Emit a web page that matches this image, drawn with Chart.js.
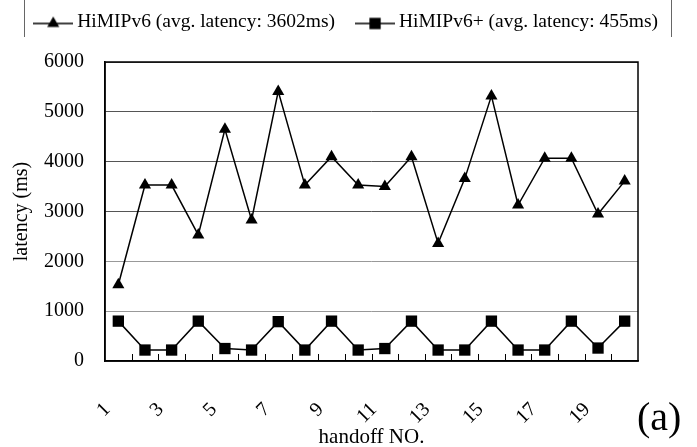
<!DOCTYPE html>
<html>
<head>
<meta charset="utf-8">
<script src="https://cdn.jsdelivr.net/npm/chart.js@4.4.1/dist/chart.umd.min.js"></script>
<style>
  body { margin: 0; background: #fff; }
  #wrap { width: 697px; height: 447px; }
</style>
</head>
<body>
<div id="wrap"><canvas id="latencyChart" width="697" height="447"></canvas></div>
<script>
// handoff numbers along the x axis
const handoffs = ['1', '2', '3', '4', '5', '6', '7', '8', '9', '10',
                  '11', '12', '13', '14', '15', '16', '17', '18', '19', '20'];

// latency per handoff (ms)
const himipv6 = [1530, 3530, 3530, 2530, 4650, 2830, 5410, 3530, 4100, 3530,
                 3500, 4100, 2360, 3660, 5320, 3130, 4070, 4070, 2950, 3610];
const himipv6Plus = [800, 220, 220, 800, 250, 220, 790, 220, 800, 220,
                     250, 800, 220, 220, 800, 220, 220, 800, 260, 800];

const seriesNames = ['HiMIPv6 (avg. latency: 3602ms)', 'HiMIPv6+ (avg. latency: 455ms)'];
const yTicks = [0, 1000, 2000, 3000, 4000, 5000, 6000];
const panelLabel = '(a)';

const serif = '"Liberation Serif", "Times New Roman", serif';

// little "line + marker" picture for the legend
function legendIcon(style, radius) {
    const c = document.createElement('canvas');
    c.width = 40;
    c.height = 24;
    const g = c.getContext('2d');
    g.strokeStyle = '#000';
    g.lineWidth = 1.5;
    g.beginPath();
    g.moveTo(0, 14);
    g.lineTo(40, 14);
    g.stroke();
    g.fillStyle = '#000';
    Chart.helpers.drawPoint(g, { pointStyle: style, radius: radius, rotation: 0, borderWidth: 0 }, 20, 14);
    return c;
}

// make the legend take a fixed strip on top, with its row near the top edge
const legendHeight = {
    id: 'legendHeight',
    beforeInit(chart) {
        const fit = chart.legend.fit;
        chart.legend.fit = function () {
            fit.call(this);
            this.height = 62;
        };
    },
    afterLayout(chart) {
        chart.legend.top -= 14;
    }
};

// plot frame, inner x ticks, legend box sides and panel label
const framePlugin = {
    id: 'frame',
    afterDraw(chart) {
        const ctx = chart.ctx;
        const a = chart.chartArea;
        const x = chart.scales.x;
        ctx.save();
        ctx.strokeStyle = '#000';
        ctx.lineWidth = 1.5;
        ctx.strokeRect(a.left, a.top, a.right - a.left, a.bottom - a.top);

        // small tick marks between categories, pointing up into the plot
        ctx.lineWidth = 1;
        ctx.beginPath();
        for (let i = 0; i < handoffs.length - 1; i++) {
            const px = Math.round((x.getPixelForValue(i) + x.getPixelForValue(i + 1)) / 2) + 0.5;
            ctx.moveTo(px, a.bottom);
            ctx.lineTo(px, a.bottom - 7);
        }
        ctx.stroke();

        const boxes = chart.legend.legendHitBoxes;
        if (boxes.length) {
            const l = Math.round(boxes[0].left - 15) + 0.5;
            const last = boxes[boxes.length - 1];
            const r = Math.round(last.left + last.width + 13) + 0.5;
            ctx.strokeStyle = '#666';
            ctx.beginPath();
            ctx.moveTo(l, 0); ctx.lineTo(l, 37);
            ctx.moveTo(r, 0); ctx.lineTo(r, 37);
            ctx.stroke();
        }

        ctx.fillStyle = '#000';
        ctx.font = '40px ' + serif;
        ctx.textAlign = 'left';
        ctx.textBaseline = 'alphabetic';
        ctx.fillText(panelLabel, a.right - 1, 430);
        ctx.restore();
    }
};

const ctx = document.getElementById('latencyChart').getContext('2d');
const latencyChart = new Chart(ctx, {
    type: 'line',
    data: {
        labels: handoffs,
        datasets: [{
            label: seriesNames[0],
            data: himipv6,
            borderColor: '#000',
            backgroundColor: '#000',
            borderWidth: 1.5,
            pointStyle: 'triangle',
            pointRadius: 7,
            pointBorderWidth: 0,
            tension: 0
        }, {
            label: seriesNames[1],
            data: himipv6Plus,
            borderColor: '#000',
            backgroundColor: '#000',
            borderWidth: 1.5,
            pointStyle: 'rect',
            pointRadius: 8,
            pointBorderWidth: 0,
            tension: 0
        }]
    },
    options: {
        responsive: false,
        animation: false,
        layout: { padding: { left: 0, right: 0, top: 0, bottom: 0 } },
        plugins: {
            legend: {
                position: 'top',
                labels: {
                    usePointStyle: true,
                    pointStyleWidth: 28.5,
                    padding: 25.75,
                    color: '#000',
                    font: { family: serif, size: 19.5 },
                    generateLabels(chart) {
                        return chart.data.datasets.map((ds, i) => ({
                            text: ds.label,
                            pointStyle: legendIcon(ds.pointStyle, ds.pointRadius),
                            fillStyle: '#000',
                            strokeStyle: '#000',
                            lineWidth: 0,
                            hidden: false,
                            datasetIndex: i,
                            fontColor: '#000'
                        }));
                    }
                }
            },
            tooltip: { enabled: false }
        },
        scales: {
            x: {
                offset: true,
                grid: { display: false },
                border: { color: '#000', width: 1.5 },
                ticks: {
                    autoSkip: false,
                    maxRotation: 45,
                    minRotation: 45,
                    padding: 29,
                    labelOffset: -11,
                    color: '#000',
                    font: { family: serif, size: 20 },
                    callback: (v, i) => (i % 2 === 0 ? handoffs[i] : '')
                },
                title: {
                    display: true,
                    text: 'handoff NO.',
                    color: '#000',
                    font: { family: serif, size: 21 },
                    padding: { top: 0, bottom: -3 }
                },
                afterFit(scale) { scale.height = 86; }
            },
            y: {
                min: yTicks[0],
                max: yTicks[yTicks.length - 1],
                grid: {
                    color: (c) => (c.tick && c.tick.value >= 3000 ? '#555' : '#999'),
                    drawTicks: false
                },
                border: { color: '#000', width: 1.5 },
                ticks: {
                    stepSize: yTicks[1] - yTicks[0],
                    padding: 21,
                    color: '#000',
                    font: { family: serif, size: 20 },
                    callback: (v) => String(v)
                },
                title: {
                    display: true,
                    text: 'latency (ms)',
                    color: '#000',
                    font: { family: serif, size: 20 },
                    padding: { top: 10, bottom: 0 }
                },
                afterFit(scale) { scale.width = 105; }
            },
            // empty strip on the right, keeps the plot where it is in the figure
            side: {
                type: 'linear',
                position: 'right',
                grid: { display: false },
                border: { display: false },
                ticks: { display: false },
                afterFit(scale) { scale.width = 59; }
            }
        }
    },
    plugins: [legendHeight, framePlugin]
});
</script>
</body>
</html>
